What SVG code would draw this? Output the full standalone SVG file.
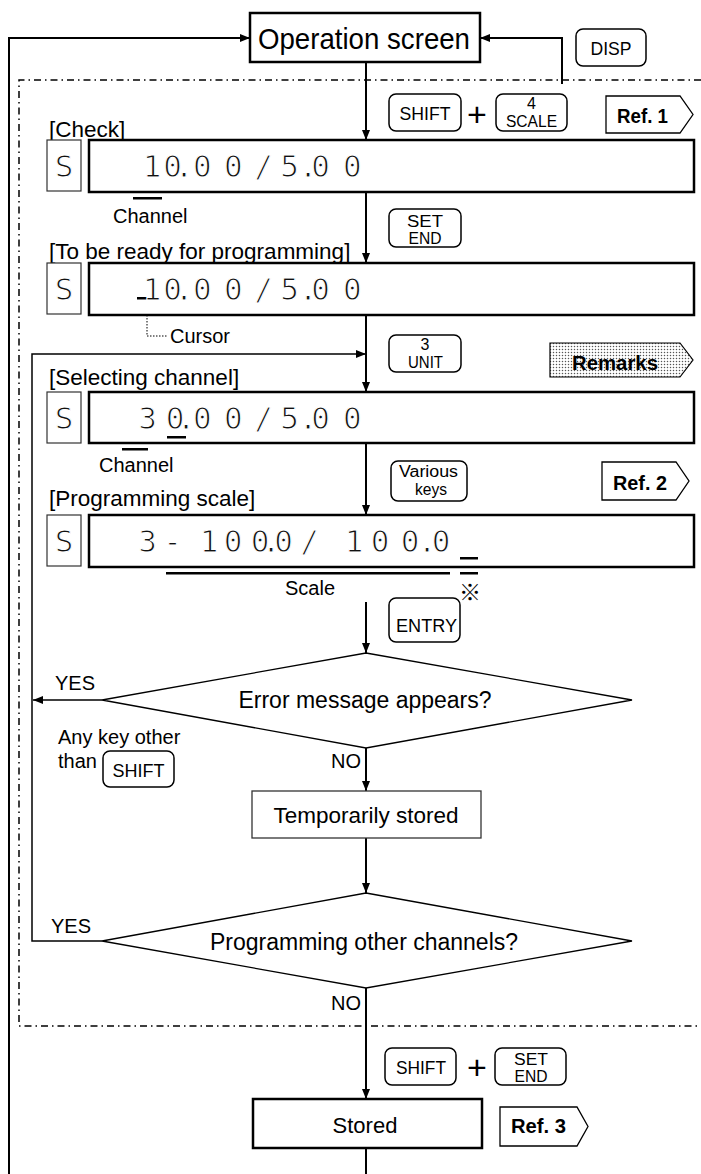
<svg xmlns="http://www.w3.org/2000/svg" width="701" height="1174" viewBox="0 0 701 1174">
<defs>
<marker id="ah" markerUnits="userSpaceOnUse" markerWidth="10" markerHeight="8" refX="10" refY="4" orient="auto"><path d="M0,0 L10,4 L0,8 z" fill="#000"/></marker>
<pattern id="dots" width="3" height="3" patternUnits="userSpaceOnUse"><rect width="3" height="3" fill="#fff"/><circle cx="1.5" cy="1.5" r="0.75" fill="#555"/></pattern>
</defs>
<style>
text{font-family:"Liberation Sans",Arial,sans-serif;fill:#000}
.lbl{font-size:22.5px}
.sm{font-size:20px}
.key{fill:#fff;stroke:#000;stroke-width:1.5}
.kt{font-size:18px;text-anchor:middle}
.k2{font-size:16px;text-anchor:middle}
.disp{fill:#fff;stroke:#000;stroke-width:2.5}
.sbox{fill:#fff;stroke:#333;stroke-width:1.2}
.seg{font-family:"DejaVu Sans Mono",monospace;font-size:31px;text-anchor:middle;fill:#111;stroke:#fff;stroke-width:1.1}
.ref{fill:#fff;stroke:#000;stroke-width:1.3}
.rt{font-size:20px;font-weight:bold}
.conn{fill:none;stroke:#000;stroke-width:2}
.thin{fill:none;stroke:#000;stroke-width:1.5}
.dia{fill:#fff;stroke:#000;stroke-width:1.3}
.bar{fill:#000}
.dt{font-size:23px;text-anchor:middle}
</style>

<path id="frame" d="M701,80 H19 V1026 H701" fill="none" stroke="#000" stroke-width="1.5" stroke-dasharray="7 4 1.5 4"/>

<g id="connectors">
<path class="conn" d="M9,1174 V38 H250" marker-end="url(#ah)"/>
<path class="conn" d="M562,84 V38 H480" marker-end="url(#ah)"/>
<path class="conn" d="M366,62 V140" marker-end="url(#ah)"/>
<path class="conn" d="M366,192 V263" marker-end="url(#ah)"/>
<path class="conn" d="M366,315 V392" marker-end="url(#ah)"/>
<path class="conn" d="M366,443 V515" marker-end="url(#ah)"/>
<path class="conn" d="M366,602 V653" marker-end="url(#ah)"/>
<path class="conn" d="M366,748 V791" marker-end="url(#ah)"/>
<path class="conn" d="M366,838 V893" marker-end="url(#ah)"/>
<path class="conn" d="M366,988 V1099" marker-end="url(#ah)"/>
<path class="conn" d="M366,1148 V1174"/>
<path class="thin" d="M102,941 H32 V354 H366" marker-end="url(#ah)"/>
<path class="thin" d="M102,700 H33" marker-end="url(#ah)"/>
<path d="M147,300 V336 H167" fill="none" stroke="#000" stroke-width="1" stroke-dasharray="1.5 1.5"/>
</g>

<g id="operation-screen">
<rect x="250" y="13" width="230" height="49" fill="#fff" stroke="#000" stroke-width="2.5"/>
<text x="364" y="49" font-size="29" text-anchor="middle" textLength="212" lengthAdjust="spacingAndGlyphs">Operation screen</text>
</g>

<g id="key-disp">
<rect class="key" x="576" y="29" width="70" height="37" rx="7"/>
<text class="kt" x="611" y="55" textLength="41" lengthAdjust="spacingAndGlyphs">DISP</text>
</g>

<g id="key-shift-scale">
<rect class="key" x="389" y="94" width="72" height="37" rx="7"/>
<text class="kt" x="425" y="120" font-size="19" textLength="51" lengthAdjust="spacingAndGlyphs">SHIFT</text>
<text x="477" y="126" font-size="34" text-anchor="middle">+</text>
<rect class="key" x="496" y="94" width="71" height="37" rx="7"/>
<text class="k2" x="531.5" y="109">4</text>
<text class="k2" x="531.5" y="127" textLength="51" lengthAdjust="spacingAndGlyphs">SCALE</text>
</g>

<g id="ref1">
<path class="ref" d="M606,96 H680 L693,114.5 L680,133 H606 Z"/>
<text class="rt" x="617" y="123" textLength="51" lengthAdjust="spacingAndGlyphs">Ref. 1</text>
</g>

<g id="display-check">
<text class="lbl" x="49" y="137">[Check]</text>
<rect class="sbox" x="47" y="140" width="34" height="51"/>
<text class="seg" x="64" y="177">S</text>
<rect class="disp" x="89" y="140" width="605" height="52"/>
<text class="seg" x="152 172.7 184 202.3 233.3 263.7 289.7 308 320.7 352.3" y="177">10.00/5.00</text>
<rect class="bar" x="133" y="197" width="29" height="2.5"/>
<text class="sm" x="113" y="223">Channel</text>
</g>

<g id="key-setend">
<rect class="key" x="389" y="209" width="72" height="38" rx="7"/>
<text class="k2" x="425" y="226.5" font-size="15.5" textLength="36" lengthAdjust="spacingAndGlyphs">SET</text>
<text class="k2" x="425" y="243.5" font-size="15.5" textLength="33" lengthAdjust="spacingAndGlyphs">END</text>
</g>

<g id="display-ready">
<text class="lbl" x="49" y="259">[To be ready for programming]</text>
<rect class="sbox" x="47" y="263" width="34" height="51"/>
<text class="seg" x="64" y="300">S</text>
<rect class="disp" x="89" y="263" width="605" height="52"/>
<rect class="bar" x="137" y="297" width="21" height="2.5"/>
<text class="seg" x="152 172.7 184 202.3 233.3 263.7 289.7 308 320.7 352.3" y="300">10.00/5.00</text>
<text class="sm" x="170" y="343">Cursor</text>
</g>

<g id="key-unit">
<rect class="key" x="389" y="335" width="72" height="37" rx="7"/>
<text class="k2" x="425" y="350" font-size="15">3</text>
<text class="k2" x="425.5" y="368" textLength="35" lengthAdjust="spacingAndGlyphs">UNIT</text>
</g>

<g id="remarks">
<path d="M550,343 H680 L693,360 L680,377 H550 Z" fill="url(#dots)" stroke="#000" stroke-width="1.2"/>
<text class="rt" x="572" y="370" textLength="86" lengthAdjust="spacingAndGlyphs">Remarks</text>
</g>

<g id="display-select">
<text class="lbl" x="49" y="385">[Selecting channel]</text>
<rect class="sbox" x="47" y="392" width="34" height="51"/>
<text class="seg" x="64" y="429">S</text>
<rect class="disp" x="89" y="392" width="605" height="51"/>
<text class="seg" x="147.5 175 186 202.3 233.3 263.7 289.7 308 320.7 352.3" y="429">30.00/5.00</text>
<rect class="bar" x="167" y="436" width="19" height="2.5"/>
<rect class="bar" x="122" y="448" width="26" height="2.5"/>
<text class="sm" x="99" y="472">Channel</text>
</g>

<g id="key-various">
<rect class="key" x="391" y="461" width="76" height="40" rx="7"/>
<text class="k2" x="428.5" y="477" textLength="59" lengthAdjust="spacingAndGlyphs">Various</text>
<text class="k2" x="431" y="495" textLength="32" lengthAdjust="spacingAndGlyphs">keys</text>
</g>

<g id="ref2">
<path class="ref" d="M602,462 H676 L689,481 L676,500 H602 Z"/>
<text class="rt" x="613" y="490" textLength="54" lengthAdjust="spacingAndGlyphs">Ref. 2</text>
</g>

<g id="display-program">
<text class="lbl" x="49" y="506">[Programming scale]</text>
<rect class="sbox" x="47" y="515" width="34" height="51"/>
<text class="seg" x="64" y="552">S</text>
<rect class="disp" x="89" y="515" width="605" height="52"/>
<text class="seg" x="147.5 172.5 209 233 260 271 283.5 309.5 354 380 410 427 441" y="552">3-100.0/100.0</text>
<rect class="bar" x="460" y="557" width="18" height="2.5"/>
<rect class="bar" x="166" y="572" width="284" height="2.5"/>
<rect class="bar" x="460" y="572" width="18" height="2.5"/>
<text class="sm" x="285" y="595">Scale</text>
<text x="470" y="600" font-size="22" text-anchor="middle" style="font-family:'Noto Sans CJK JP',sans-serif">※</text>
</g>

<g id="key-entry">
<rect class="key" x="389" y="598" width="71" height="44" rx="7"/>
<text class="kt" x="426.5" y="632" textLength="61" lengthAdjust="spacingAndGlyphs">ENTRY</text>
</g>

<g id="decision-error">
<polygon class="dia" points="366,653 632,700 366,748 102,700"/>
<text class="dt" x="365" y="708">Error message appears?</text>
<text class="sm" x="55" y="690">YES</text>
<text class="sm" x="58" y="744">Any key other</text>
<text class="sm" x="58" y="768">than</text>
<rect class="key" x="103" y="751" width="71" height="36" rx="7"/>
<text class="kt" x="138.5" y="777" textLength="52" lengthAdjust="spacingAndGlyphs">SHIFT</text>
<text class="sm" x="331" y="768">NO</text>
</g>

<g id="temp-stored">
<rect x="252" y="791" width="229" height="47" fill="#fff" stroke="#333" stroke-width="1.3"/>
<text x="366" y="823" font-size="22.5" text-anchor="middle">Temporarily stored</text>
</g>

<g id="decision-other">
<polygon class="dia" points="366,893 632,941 366,988 102,941"/>
<text class="dt" x="364" y="950">Programming other channels?</text>
<text class="sm" x="51" y="933">YES</text>
<text class="sm" x="331" y="1010">NO</text>
</g>

<g id="key-shift-setend">
<rect class="key" x="385" y="1048" width="71" height="37" rx="7"/>
<text class="kt" x="421" y="1074" font-size="19" textLength="50" lengthAdjust="spacingAndGlyphs">SHIFT</text>
<text x="477" y="1079" font-size="34" text-anchor="middle">+</text>
<rect class="key" x="495" y="1048" width="71" height="37" rx="7"/>
<text class="k2" x="531" y="1064.5" font-size="15.5" textLength="34" lengthAdjust="spacingAndGlyphs">SET</text>
<text class="k2" x="531" y="1082" font-size="15.5" textLength="33" lengthAdjust="spacingAndGlyphs">END</text>
</g>

<g id="stored">
<rect x="253" y="1099" width="229" height="49" fill="#fff" stroke="#000" stroke-width="2.5"/>
<text x="365" y="1133" font-size="22" text-anchor="middle">Stored</text>
</g>

<g id="ref3">
<path class="ref" d="M500,1107 H577 L588,1126.5 L577,1146 H500 Z"/>
<text class="rt" x="511" y="1133" textLength="55" lengthAdjust="spacingAndGlyphs">Ref. 3</text>
</g>
</svg>
